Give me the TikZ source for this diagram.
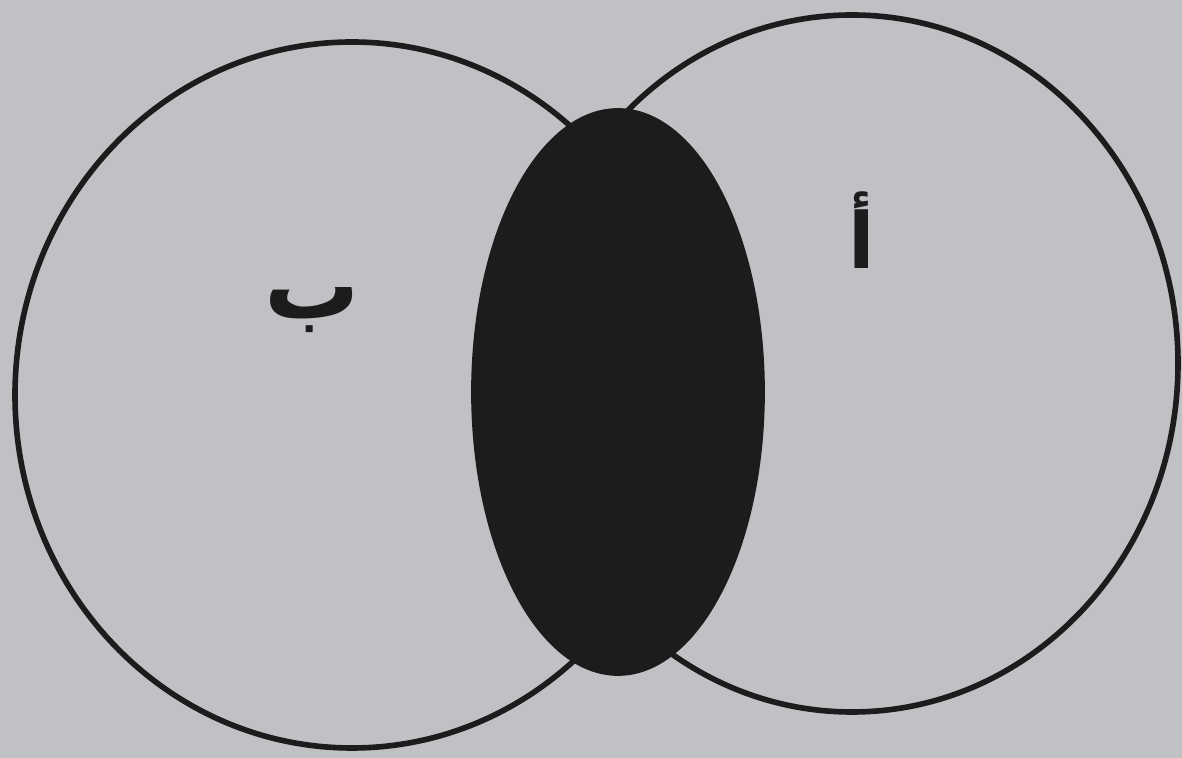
\documentclass[tikz,border=0pt]{standalone}
\usepackage{fontspec}
\usepackage{xcolor}
\usepackage{tikz}
\usetikzlibrary{positioning}
\newfontfamily\arabicfont[Script=Arabic]{DejaVu Sans}
\TeXXeTstate=1
\definecolor{PaperGray}{RGB}{192,193,196}
\definecolor{InkBlack}{RGB}{28,28,28}

\begin{document}
\begin{tikzpicture}[
    setline/.style={draw=InkBlack, line width=3.2pt},
    lens/.style={fill=InkBlack, draw=InkBlack, line width=1pt},
    setlabel/.style={text=InkBlack, inner sep=0pt, font=\arabicfont\bfseries\fontsize{54}{54}\selectfont}]

    \fill [PaperGray] (0,0) rectangle (23.64,15.16);
    \useasboundingbox (0,0) rectangle (23.64,15.16);

    \coordinate (cB) at (7.04,7.26);
    \coordinate (cA) at (17.04,7.89);
    \coordinate (cAB) at (12.36,7.32);

    \draw [setline] (cB) ellipse [x radius=6.74, y radius=7.06];
    \draw [setline] (cA) ellipse [x radius=6.52, y radius=6.97];
    \filldraw [lens] (cAB) ellipse [x radius=2.92, y radius=5.66];

    \node [setlabel] (labB) at (6.25,8.95) {\beginR ب\endR};
    \node [setlabel, font=\arabicfont\bfseries\fontsize{44}{44}\selectfont] (labA) at (17.24,10.55) {\beginR أ\endR};
\end{tikzpicture}
\end{document}
